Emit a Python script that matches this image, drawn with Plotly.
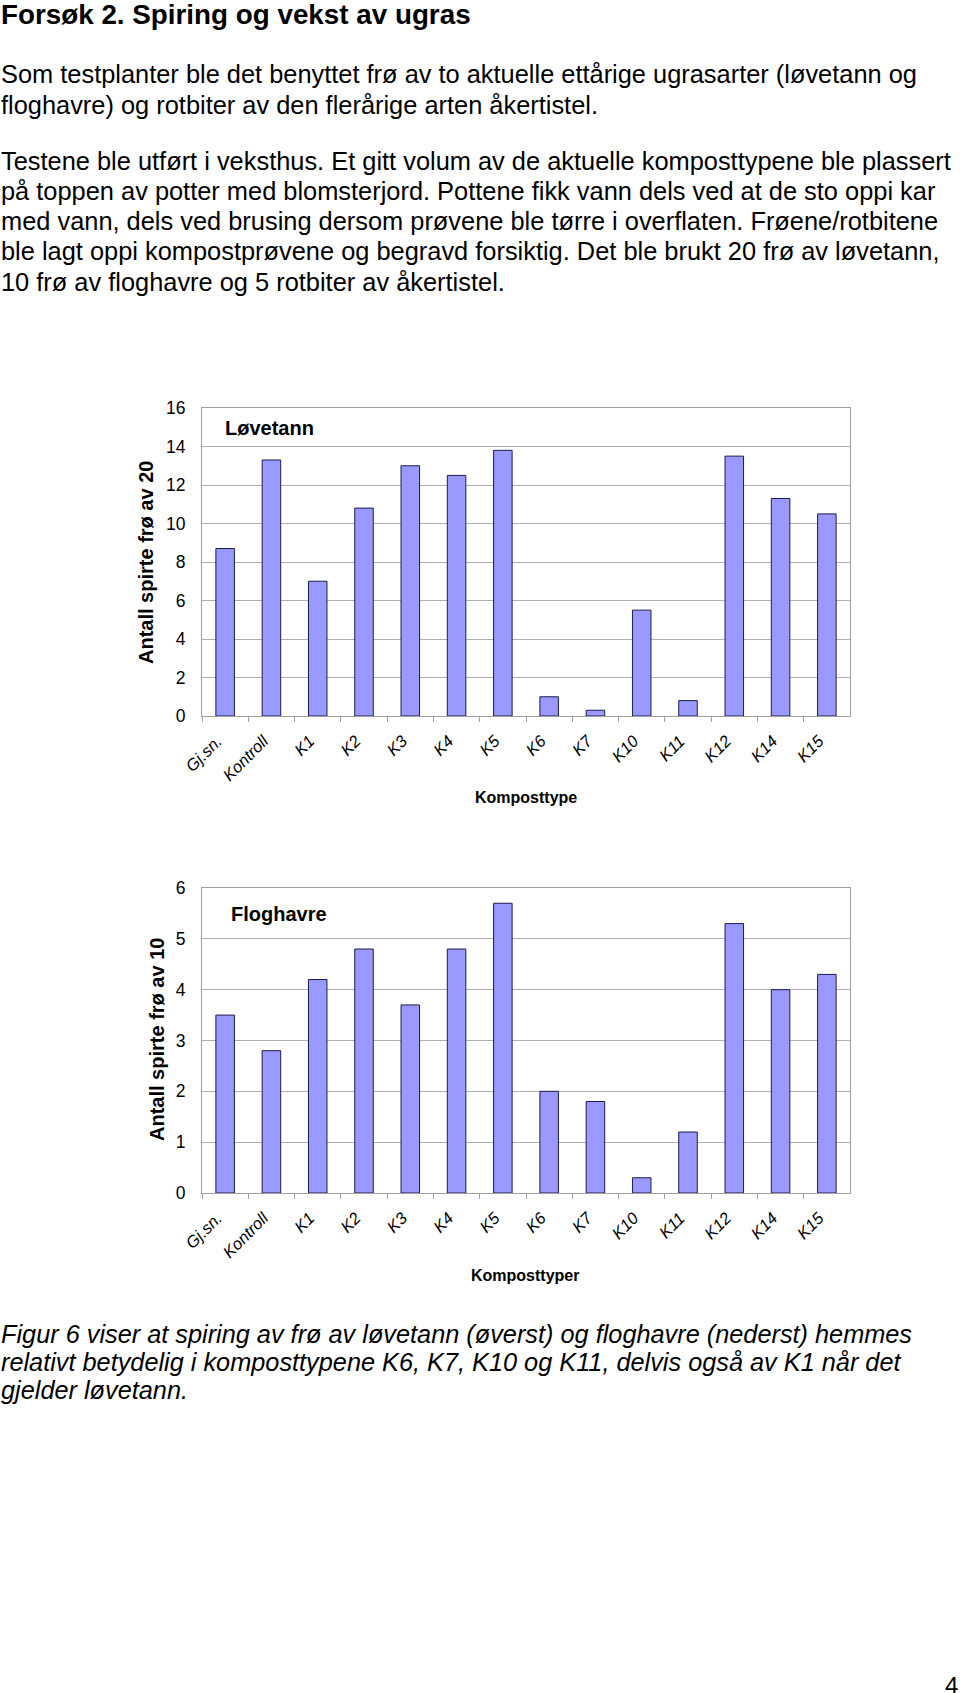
import plotly.graph_objects as go

# ---------------- data ----------------
categories = ["Gj.sn.", "Kontroll", "K1", "K2", "K3", "K4", "K5", "K6", "K7",
              "K10", "K11", "K12", "K14", "K15"]
lovetann = [8.7, 13.3, 7.0, 10.8, 13.0, 12.5, 13.8, 1.0, 0.3, 5.5, 0.8, 13.5, 11.3, 10.5]
floghavre = [3.5, 2.8, 4.2, 4.8, 3.7, 4.8, 5.7, 2.0, 1.8, 0.3, 1.2, 5.3, 4.0, 4.3]

y1_ticks = [0, 2, 4, 6, 8, 10, 12, 14, 16]
y2_ticks = [0, 1, 2, 3, 4, 5, 6]

heading = "Forsøk 2. Spiring og vekst av ugras"
body_lines = [
    "Som testplanter ble det benyttet frø av to aktuelle ettårige ugrasarter (løvetann og",
    "floghavre) og rotbiter av den flerårige arten åkertistel.",
    "Testene ble utført i veksthus. Et gitt volum av de aktuelle komposttypene ble plassert",
    "på toppen av potter med blomsterjord. Pottene fikk vann dels ved at de sto oppi kar",
    "med vann, dels ved brusing dersom prøvene ble tørre i overflaten. Frøene/rotbitene",
    "ble lagt oppi kompostprøvene og begravd forsiktig. Det ble brukt 20 frø av løvetann,",
    "10 frø av floghavre og 5 rotbiter av åkertistel.",
]
caption_lines = [
    "Figur 6 viser at spiring av frø av løvetann (øverst) og floghavre (nederst) hemmes",
    "relativt betydelig i komposttypene K6, K7, K10 og K11, delvis også av K1 når det",
    "gjelder løvetann.",
]
chart1_label = "Løvetann"
chart2_label = "Floghavre"
y1_title = "Antall spirte frø av 20"
y2_title = "Antall spirte frø av 10"
x1_title = "Komposttype"
x2_title = "Komposttyper"
page_no = "4"

# ---------------- layout helpers ----------------
W, H = 960, 1693
FONT = "Liberation Sans, Arial, sans-serif"


def px(x):
    return x / W


def py(y):
    return 1 - y / H


BAR_FILL = "#9999FF"
BAR_LINE = "#1c1c4c"
GRID = "#b0b0b0"
AXIS = "#a0a0a0"

fig = go.Figure()
fig.add_trace(go.Bar(x=categories, y=lovetann, marker=dict(color=BAR_FILL, line=dict(color=BAR_LINE, width=1)),
                     xaxis="x", yaxis="y", showlegend=False, hoverinfo="x+y"))
fig.add_trace(go.Bar(x=categories, y=floghavre, marker=dict(color=BAR_FILL, line=dict(color=BAR_LINE, width=1)),
                     xaxis="x2", yaxis="y2", showlegend=False, hoverinfo="x+y"))

xcommon = dict(
    type="category", showgrid=False, showline=True, linecolor=AXIS, linewidth=1, mirror=True,
    ticks="outside", tickson="boundaries", ticklen=5, tickcolor=AXIS, tickangle=-45,
    tickfont=dict(family=FONT, size=16.5, color="black", style="italic"),
    ticklabelstandoff=8, ticklabelshift=-8, fixedrange=True, automargin=False,
)
ycommon = dict(
    showgrid=True, gridcolor=GRID, gridwidth=1, showline=True, linecolor=AXIS, linewidth=1,
    mirror=True, ticks="", zeroline=False,
    tickfont=dict(family=FONT, size=17.5, color="black"), ticklabelstandoff=12, fixedrange=True,
    automargin=False,
)

fig.update_layout(
    width=W, height=H, margin=dict(l=0, r=0, t=0, b=0, pad=0, autoexpand=False),
    paper_bgcolor="white", plot_bgcolor="white",
    bargap=0.6,
    xaxis=dict(domain=[px(202), px(850)], anchor="y", **xcommon),
    yaxis=dict(domain=[py(716), py(408)], anchor="x", range=[0, 16], tickvals=y1_ticks, **ycommon),
    xaxis2=dict(domain=[px(202), px(850)], anchor="y2", **xcommon),
    yaxis2=dict(domain=[py(1193), py(888)], anchor="x2", range=[0, 6], tickvals=y2_ticks, **ycommon),
)

ann = []
# heading
ann.append(dict(text=f"<b>{heading}</b>", x=px(0), y=py(14), xanchor="left", yanchor="middle",
                font=dict(family=FONT, size=27.8, color="black")))
body_y = [74, 105, 161, 191, 221, 251, 282]
for line, yy in zip(body_lines, body_y):
    ann.append(dict(text=line, x=px(0), y=py(yy), xanchor="left", yanchor="middle",
                    font=dict(family=FONT, size=25.4, color="black")))
cap_y = [1334, 1362, 1390]
for line, yy in zip(caption_lines, cap_y):
    ann.append(dict(text=f"<i>{line}</i>", x=px(0), y=py(yy), xanchor="left", yanchor="middle",
                    font=dict(family=FONT, size=25.3, color="black")))
# chart labels
ann.append(dict(text=f"<b>{chart1_label}</b>", x=px(224), y=py(428), xanchor="left", yanchor="middle",
                font=dict(family=FONT, size=20, color="black")))
ann.append(dict(text=f"<b>{chart2_label}</b>", x=px(230), y=py(914), xanchor="left", yanchor="middle",
                font=dict(family=FONT, size=20, color="black")))
# axis titles
ann.append(dict(text=f"<b>{y1_title}</b>", x=px(146), y=py(563), xanchor="center", yanchor="middle",
                textangle=-90, font=dict(family=FONT, size=20, color="black")))
ann.append(dict(text=f"<b>{y2_title}</b>", x=px(157), y=py(1040), xanchor="center", yanchor="middle",
                textangle=-90, font=dict(family=FONT, size=20, color="black")))
ann.append(dict(text=f"<b>{x1_title}</b>", x=px(526), y=py(797), xanchor="center", yanchor="middle",
                font=dict(family=FONT, size=16, color="black")))
ann.append(dict(text=f"<b>{x2_title}</b>", x=px(525), y=py(1275), xanchor="center", yanchor="middle",
                font=dict(family=FONT, size=16, color="black")))
# page number (cut at the bottom edge, as in the reference)
ann.append(dict(text=page_no, x=px(944), y=py(1671), xanchor="left", yanchor="top",
                font=dict(family=FONT, size=24, color="black")))

for a in ann:
    a.update(xref="paper", yref="paper", showarrow=False, align="left", borderpad=0)
fig.update_layout(annotations=ann)

# remove the default page margin so the figure sits at the window's top-left corner
fig.write_html("out.html", config={"displayModeBar": False},
               post_script="document.body.style.margin='0px';")
